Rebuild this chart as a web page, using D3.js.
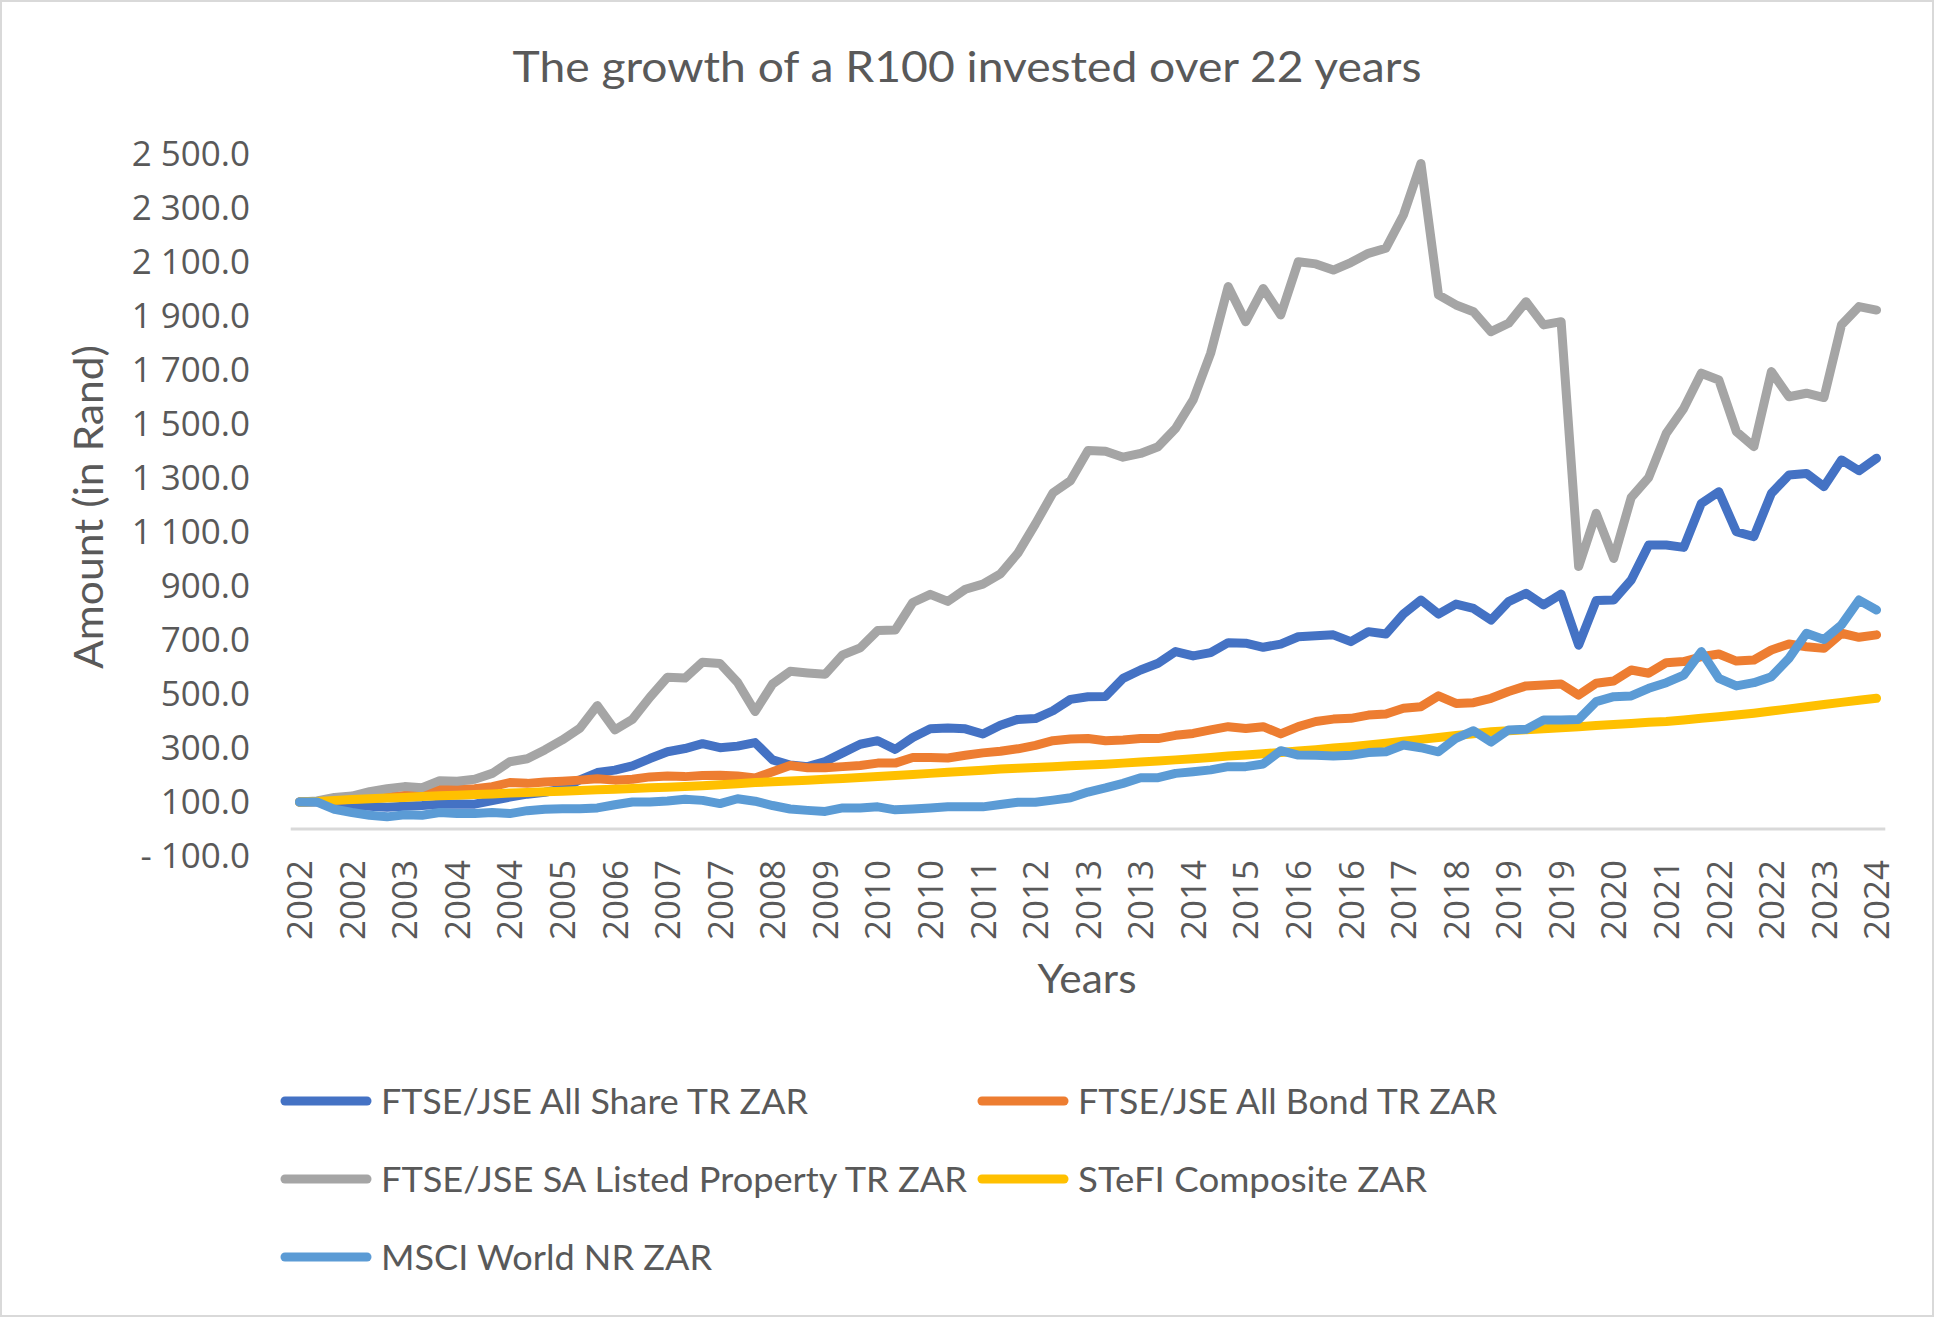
<!DOCTYPE html>
<html>
<head>
<meta charset="utf-8">
<script src="https://cdn.jsdelivr.net/npm/d3@7"></script>
<style>
  html, body { margin: 0; padding: 0; background: #ffffff; }
  svg { display: block; }
</style>
</head>
<body>
<svg id="chart" width="1934" height="1317"></svg>
<script>
// ---------------- DATA ----------------
const chartTitle = "The growth of a R100 invested over 22 years";
const yAxisTitle = "Amount (in Rand)";
const xAxisTitle = "Years";

// category-axis labels (one shown every 3rd point)
const tickLabels = ["2002","2002","2003","2004","2004","2005","2006","2007","2007","2008",
  "2009","2010","2010","2011","2012","2013","2013","2014","2015","2016","2016","2017",
  "2018","2019","2019","2020","2021","2022","2022","2023","2024"];
const tickEvery = 3;

const yTicks = [-100, 100, 300, 500, 700, 900, 1100, 1300, 1500, 1700, 1900, 2100, 2300, 2500];

const seriesNames = ["FTSE/JSE All Share TR ZAR", "FTSE/JSE All Bond TR ZAR",
  "FTSE/JSE SA Listed Property TR ZAR", "STeFI Composite ZAR", "MSCI World NR ZAR"];

const allShare = [100,100,93,87,84,81,84,87,92,93,92,105,118,129,136,148,182,209,218,234,
  261,286,298,316,301,307,320,256,237,231,250,282,314,327,295,339,371,374,371,352,
  384,406,409,438,480,490,491,558,589,614,657,641,653,690,688,673,685,712,716,719,
  694,731,722,796,848,796,833,817,774,842,873,830,870,681,846,848,922,1052,1052,1043,
  1206,1249,1101,1083,1243,1311,1317,1268,1367,1327,1373];

const allBond = [100,102,106,110,114,119,124,130,146,147,149,157,172,169,174,177,181,186,181,184,
  193,196,194,198,199,196,189,212,235,227,227,231,235,244,244,265,265,263,273,282,
  288,297,310,327,333,335,327,330,335,335,347,354,367,379,372,379,352,379,398,407,
  410,422,426,447,453,493,465,468,484,509,530,533,537,496,540,548,589,577,616,620,
  638,648,622,626,663,685,675,669,725,710,719];

const listedProperty = [100,104,117,122,138,149,157,153,179,177,184,206,249,260,293,330,373,457,367,406,
  488,562,559,618,613,543,435,537,584,578,573,645,671,735,737,839,869,843,888,907,
  945,1022,1130,1245,1290,1402,1399,1377,1391,1416,1484,1589,1762,2009,1879,2002,1904,2101,2093,2070,
  2098,2132,2151,2274,2465,1978,1941,1916,1842,1873,1953,1867,1879,972,1169,1002,1228,1302,1465,1558,
  1688,1663,1472,1416,1694,1601,1614,1598,1867,1935,1922];

const stefi = [100,102,106,109,112,115,117,120,123,125,128,130,133,135,138,140,143,145,147,150,
  153,155,157,160,164,168,172,175,178,181,184,187,191,194,198,202,206,210,214,218,
  222,225,228,231,234,237,240,244,248,252,256,260,265,270,274,279,283,289,294,300,
  305,311,318,325,332,339,346,353,360,364,368,371,375,379,383,387,391,395,398,404,
  410,416,422,429,437,445,453,461,469,477,484];

const msciWorld = [100,100,73,61,51,45,53,51,61,57,57,61,57,68,73,75,75,78,90,100,
  100,104,110,106,94,112,103,87,74,69,65,78,78,82,71,74,78,82,82,82,
  91,99,99,107,116,137,152,169,190,190,206,212,219,231,231,241,290,274,273,270,
  273,283,286,311,301,286,336,364,322,367,369,404,404,406,472,490,493,521,542,570,
  657,558,530,542,564,632,725,702,756,848,811];

const seriesValues = [allShare, allBond, listedProperty, stefi, msciWorld];
const seriesColors = ["#4472C4", "#ED7D31", "#A5A5A5", "#FFC000", "#5B9BD5"];

// ---------------- CHART ----------------
const W = 1934, H = 1317;
const textColor = "#595959";
const labelFont = "'Open Sans', 'Noto Sans', sans-serif";
const titleFont = "Lato, 'Open Sans', sans-serif";

const svg = d3.select("#chart");

// chart area
svg.append("rect")
  .attr("x", 1).attr("y", 1).attr("width", W - 2).attr("height", H - 2)
  .attr("fill", "#ffffff").attr("stroke", "#D9D9D9").attr("stroke-width", 2);

const nPts = allShare.length;
const x = d3.scalePoint().domain(d3.range(nPts)).range([290.7, 1885.3]).padding(0.5);
const y = d3.scaleLinear().domain([-100, 2500]).range([856, 154]);

const fmtBase = d3.formatLocale({ decimal: ".", thousands: " ", grouping: [3], currency: ["R", ""] }).format(",.1f");
const fmt = v => v < 0 ? "- " + fmtBase(-v) : fmtBase(v);

function fitWidth(sel, target) {
  sel.each(function () {
    const w = this.getComputedTextLength();
    if (w > 0) d3.select(this).attr("textLength", target).attr("lengthAdjust", "spacingAndGlyphs");
  });
}

// title
svg.append("text")
  .attr("x", 967).attr("y", 82)
  .attr("text-anchor", "middle")
  .attr("font-family", titleFont).attr("font-size", 42)
  .attr("fill", textColor)
  .text(chartTitle)
  .call(fitWidth, 909);

// y axis (labels only)
const yAxis = svg.append("g")
  .attr("transform", `translate(${x.range()[0]},0)`)
  .call(d3.axisLeft(y).tickValues(yTicks).tickSize(0).tickPadding(40.7).tickFormat(fmt));
yAxis.select(".domain").remove();
yAxis.selectAll("text")
  .attr("font-family", labelFont).attr("font-size", 35).attr("fill", textColor);

// horizontal category axis at value 0
const xAxis = svg.append("g")
  .attr("transform", `translate(0,${y(0)})`)
  .call(d3.axisBottom(x)
    .tickValues(d3.range(0, nPts, tickEvery))
    .tickSize(0)
    .tickFormat((d, i) => tickLabels[i]));
xAxis.select(".domain").remove();
xAxis.selectAll("text")
  .attr("font-family", labelFont).attr("font-size", 35).attr("fill", textColor)
  .attr("transform", "rotate(-90)")
  .attr("text-anchor", "end")
  .attr("x", -31).attr("y", 0).attr("dy", "0.35em");

svg.append("line")
  .attr("x1", x.range()[0]).attr("x2", x.range()[1])
  .attr("y1", y(0)).attr("y2", y(0))
  .attr("stroke", "#D9D9D9").attr("stroke-width", 3);

// axis titles
svg.append("text")
  .attr("transform", "translate(103,507) rotate(-90)")
  .attr("text-anchor", "middle")
  .attr("font-family", titleFont).attr("font-size", 40)
  .attr("fill", textColor)
  .text(yAxisTitle)
  .call(fitWidth, 324);

svg.append("text")
  .attr("x", 1087).attr("y", 993)
  .attr("text-anchor", "middle")
  .attr("font-family", titleFont).attr("font-size", 40)
  .attr("fill", textColor)
  .text(xAxisTitle)
  .call(fitWidth, 99);

// lines
const line = d3.line().x((d, i) => x(i)).y(d => y(d));
svg.append("g").selectAll("path")
  .data(seriesValues)
  .join("path")
  .attr("d", line)
  .attr("fill", "none")
  .attr("stroke", (d, i) => seriesColors[i])
  .attr("stroke-width", 9)
  .attr("stroke-linejoin", "round")
  .attr("stroke-linecap", "round");

// legend
const legendCols = [281, 978];
const legendRows = [1101, 1179, 1257];
const legendWidths = [427, 419, 586, 349, 331];
const legend = svg.append("g");
seriesNames.forEach((name, i) => {
  const lx = legendCols[i % 2];
  const ly = legendRows[Math.floor(i / 2)];
  const g = legend.append("g");
  g.append("line")
    .attr("x1", lx + 4).attr("x2", lx + 86)
    .attr("y1", ly).attr("y2", ly)
    .attr("stroke", seriesColors[i]).attr("stroke-width", 9)
    .attr("stroke-linecap", "round");
  g.append("text")
    .attr("x", lx + 100).attr("y", ly).attr("dy", "0.36em")
    .attr("font-family", titleFont).attr("font-size", 35)
    .attr("fill", textColor)
    .text(name)
    .call(fitWidth, legendWidths[i]);
});
</script>
</body>
</html>
